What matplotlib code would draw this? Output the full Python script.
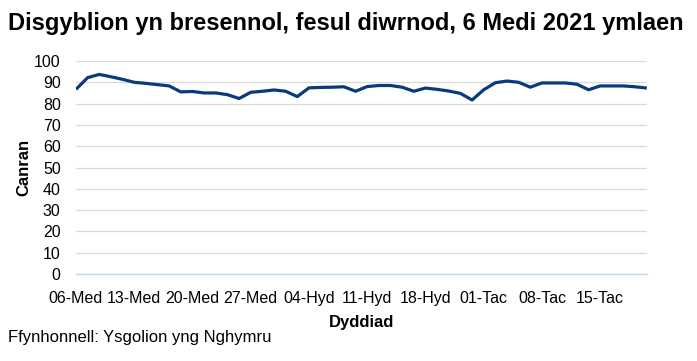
import matplotlib
matplotlib.use("Agg")
import matplotlib.pyplot as plt

plt.rcParams['font.family'] = ['Liberation Sans', 'DejaVu Sans']

# Data (school days, 06-Med to 19-Tac, half term excluded)
attendance = [86.7, 92.2, 93.7, 92.6, 91.4, 90.0, 89.5, 88.9, 88.3, 85.5,
              85.7, 85.0, 85.0, 84.2, 82.4, 85.3, 85.8, 86.4, 85.8, 83.3,
              87.4, 87.6, 87.7, 87.9, 85.8, 88.0, 88.5, 88.5, 87.7, 85.8,
              87.3, 86.7, 85.9, 84.8, 81.7, 86.5, 89.8, 90.6, 90.0, 87.7,
              89.7, 89.7, 89.7, 89.1, 86.5, 88.3, 88.3, 88.3, 87.9, 87.3]
tick_labels = ["06-Med", "13-Med", "20-Med", "27-Med", "04-Hyd",
               "11-Hyd", "18-Hyd", "01-Tac", "08-Tac", "15-Tac"]
y_ticks = [0, 10, 20, 30, 40, 50, 60, 70, 80, 90, 100]

title = "Disgyblion yn bresennol, fesul diwrnod, 6 Medi 2021 ymlaen"
x_label = "Dyddiad"
y_label = "Canran"
source = "Ffynhonnell: Ysgolion yng Nghymru"

fig = plt.figure(figsize=(6.97, 3.61), dpi=100)
ax = fig.add_axes([0.109, 0.241, 0.819, 0.590])

x = list(range(len(attendance)))
ax.plot(x, attendance, color='#0B3A7B', linewidth=2.3, solid_joinstyle='round',
        solid_capstyle='butt', zorder=3)

ax.set_xlim(0, len(attendance) - 1)
ax.set_ylim(0, 100)
ax.set_yticks(y_ticks)
ax.set_xticks(list(range(0, 5 * len(tick_labels), 5)))
ax.set_xticklabels(tick_labels)
ax.tick_params(axis='both', length=0, labelsize=11.5, colors='#000000')
ax.tick_params(axis='x', pad=12)
ax.tick_params(axis='y', pad=11)

ax.grid(axis='y', color='#D9D9D9', linewidth=0.9, zorder=0)
for s in ['top', 'right', 'left']:
    ax.spines[s].set_visible(False)
ax.spines['bottom'].set_color('#BDD7EE')
ax.spines['bottom'].set_linewidth(1.0)

ax.set_xlabel(x_label, fontsize=12, fontweight='bold', labelpad=7)
ax.set_ylabel(y_label, fontsize=12, fontweight='bold', labelpad=2)

fig.text(0.012, 0.935, title, fontsize=17, fontweight='bold', ha='left', va='center')
fig.text(0.012, 0.065, source, fontsize=12, ha='left', va='center')

fig.savefig('out.png', dpi=100)
